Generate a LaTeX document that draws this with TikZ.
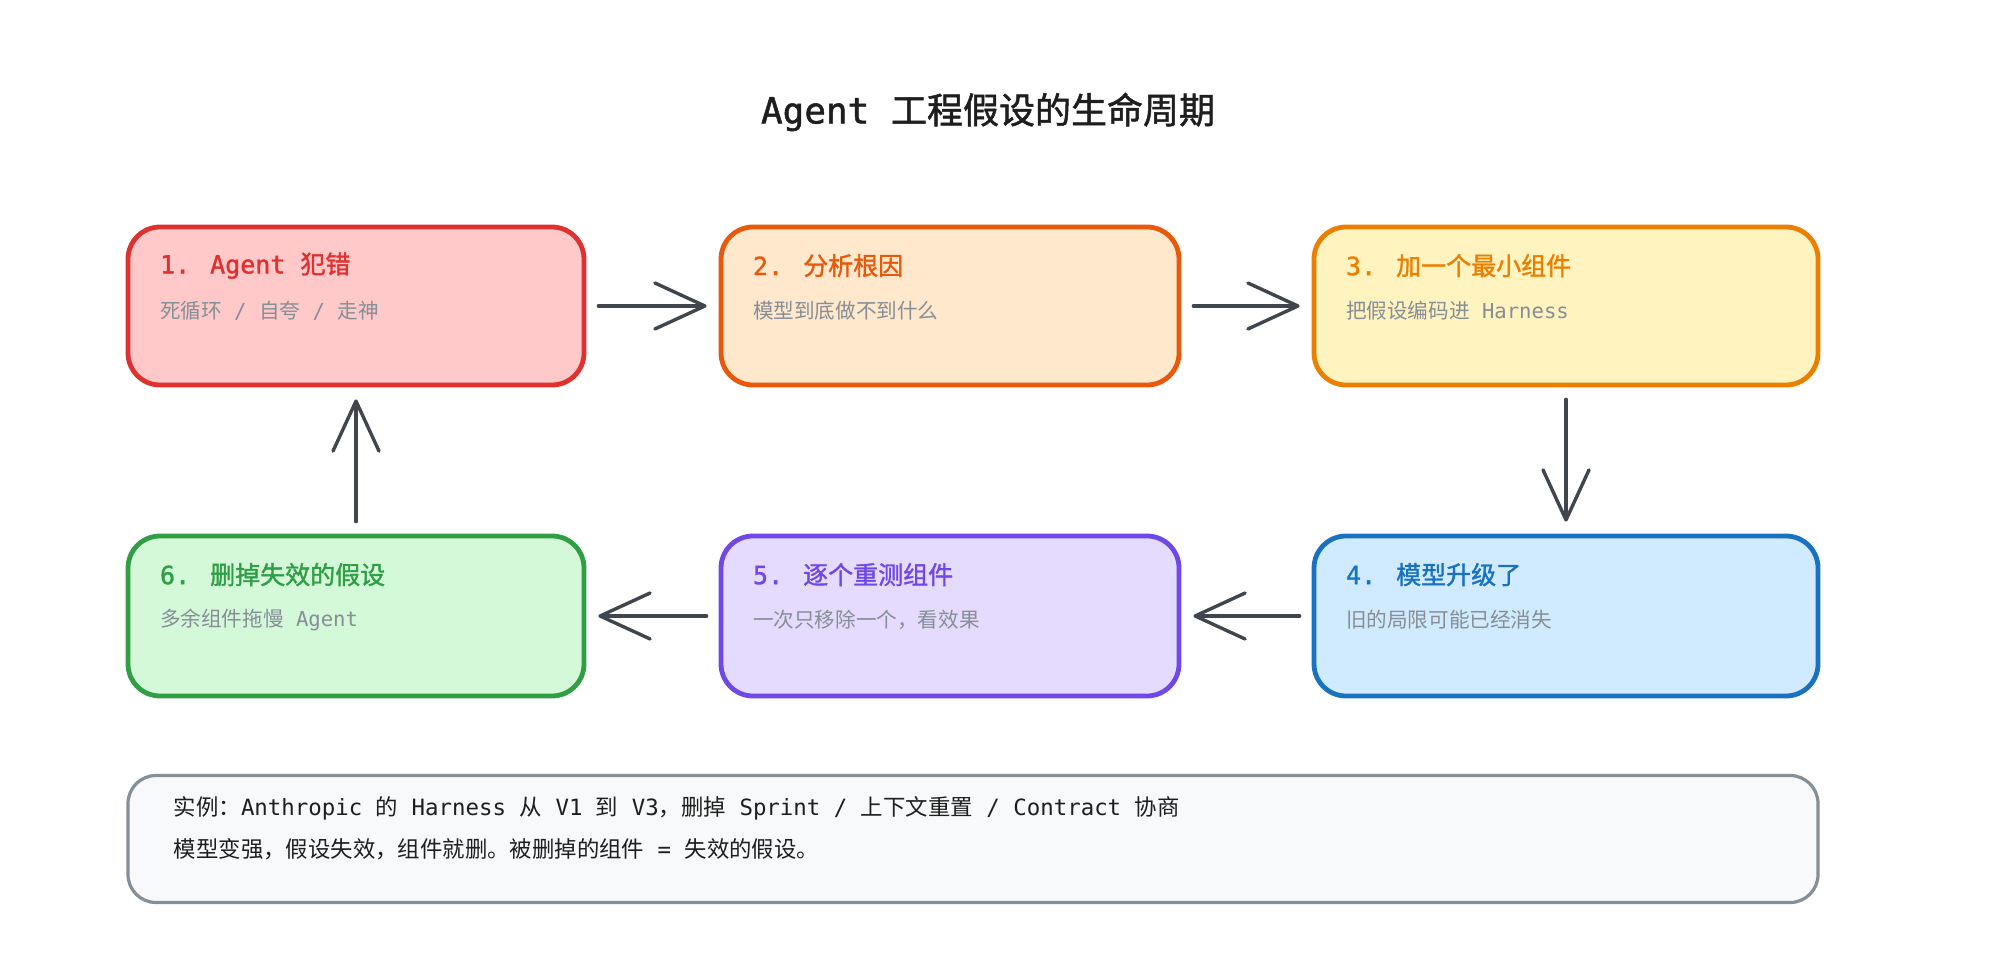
\documentclass[tikz,border=0pt]{standalone}
\usepackage{fontspec}
\setmainfont{DejaVu Sans Mono}
\newfontfamily\latinfont[BoldFont={DejaVu Sans Mono}, BoldFeatures={FakeBold=1.4}]{DejaVu Sans Mono}
\newfontfamily\cjkfont[BoldFont={Noto Sans CJK SC}, BoldFeatures={FakeBold=1.4}]{Noto Sans CJK SC}
\usetikzlibrary{arrows.meta,calc,positioning}

% switch to the CJK font for Han characters and full-width punctuation
\XeTeXinterchartokenstate=1
\newXeTeXintercharclass\cjkclass
\newcount\cjkcnt
\cjkcnt="2E80
\loop\ifnum\cjkcnt<"A000 \XeTeXcharclass\cjkcnt=\cjkclass \advance\cjkcnt by 1 \repeat
\cjkcnt="FF00
\loop\ifnum\cjkcnt<"FFF0 \XeTeXcharclass\cjkcnt=\cjkclass \advance\cjkcnt by 1 \repeat
\XeTeXinterchartoks 0 \cjkclass = {\cjkfont}
\XeTeXinterchartoks 4095 \cjkclass = {\cjkfont}
\XeTeXinterchartoks \cjkclass 0 = {\latinfont}
\XeTeXinterchartoks \cjkclass 4095 = {\latinfont}

\definecolor{ink}{HTML}{1E1E1E}
\definecolor{subgray}{HTML}{868E96}
\definecolor{arrowgray}{HTML}{3F464D}
\definecolor{redline}{HTML}{E03131}
\definecolor{redfill}{HTML}{FFC9C9}
\definecolor{orangeline}{HTML}{E8590C}
\definecolor{orangefill}{HTML}{FFE8CC}
\definecolor{yellowline}{HTML}{EC7F00}
\definecolor{yellowfill}{HTML}{FFF3BF}
\definecolor{blueline}{HTML}{1971C2}
\definecolor{bluefill}{HTML}{D0EBFF}
\definecolor{violetline}{HTML}{7048E8}
\definecolor{violetfill}{HTML}{E5DBFF}
\definecolor{greenline}{HTML}{2F9E44}
\definecolor{greenfill}{HTML}{D3F9D8}
\definecolor{noteline}{HTML}{868E96}
\definecolor{notefill}{HTML}{F8F9FA}

\begin{document}
\begin{tikzpicture}[x=0.5pt,y=-0.5pt,
  card/.style 2 args={draw=#1, fill=#2, line width=2.4pt, rounded corners=16pt,
    minimum width=228pt, minimum height=79pt},
  head/.style={anchor=west, inner sep=0pt, text=#1, font=\fontsize{12.5}{15}\selectfont\latinfont\bfseries},
  sub/.style={anchor=west, inner sep=0pt, text=subgray, font=\fontsize{10.3}{12}\selectfont},
  note/.style={anchor=west, inner sep=0pt, text=ink, font=\fontsize{11.2}{13}\selectfont},
  flow/.style={draw=arrowgray, line width=1.7pt, line cap=round,
    -{Straight Barb[length=25pt,width=23pt,line cap=round,line join=round]},
    shorten <=6pt, shorten >=6pt}]
\useasboundingbox (0,0) rectangle (2000,962);

\node[text=ink, font=\fontsize{18}{22}\selectfont\latinfont\bfseries] (title) at (988,112) {Agent 工程假设的生命周期};

% cards
\node[card={redline}{redfill}] (b1) at (356,306) {};
\node[card={orangeline}{orangefill}, minimum width=229pt] (b2) at (950,306) {};
\node[card={yellowline}{yellowfill}, minimum width=252pt] (b3) at (1566,306) {};
\node[card={blueline}{bluefill}, minimum width=252pt, minimum height=80pt] (b4) at (1566,616) {};
\node[card={violetline}{violetfill}, minimum width=229pt, minimum height=80pt] (b5) at (950,616) {};
\node[card={greenline}{greenfill}, minimum height=80pt] (b6) at (356,616) {};

\node[head=redline] (h1) at ($(b1.north west)+(34,41)$) {1. Agent 犯错};
\node[sub] (s1) at ($(b1.north west)+(34,86)$) {死循环 / 自夸 / 走神};
\node[head=orangeline] (h2) at ($(b2.north west)+(34,41)$) {2. 分析根因};
\node[sub] (s2) at ($(b2.north west)+(34,86)$) {模型到底做不到什么};
\node[head=yellowline] (h3) at ($(b3.north west)+(34,41)$) {3. 加一个最小组件};
\node[sub] (s3) at ($(b3.north west)+(34,86)$) {把假设编码进 Harness};
\node[head=blueline] (h4) at ($(b4.north west)+(34,41)$) {4. 模型升级了};
\node[sub] (s4) at ($(b4.north west)+(34,86)$) {旧的局限可能已经消失};
\node[head=violetline] (h5) at ($(b5.north west)+(34,41)$) {5. 逐个重测组件};
\node[sub] (s5) at ($(b5.north west)+(34,86)$) {一次只移除一个，看效果};
\node[head=greenline] (h6) at ($(b6.north west)+(34,41)$) {6. 删掉失效的假设};
\node[sub] (s6) at ($(b6.north west)+(34,86)$) {多余组件拖慢 Agent};

% the loop
\draw[flow] (b1) -- (b2);
\draw[flow] (b2) -- (b3);
\draw[flow] (b3) -- (b4);
\draw[flow] (b4) -- (b5);
\draw[flow] (b5) -- (b6);
\draw[flow] (b6) -- (b1);

% example note
\node[draw=noteline, fill=notefill, line width=1.6pt, rounded corners=14pt,
  minimum width=845pt, minimum height=63.5pt] (ex) at (973,839) {};
\node[note] (ex1) at ($(ex.north west)+(47,34)$) {实例：Anthropic 的 Harness 从 V1 到 V3，删掉 Sprint / 上下文重置 / Contract 协商};
\node[note] (ex2) at ($(ex.north west)+(47,75)$) {模型变强，假设失效，组件就删。被删掉的组件 = 失效的假设。};
\end{tikzpicture}
\end{document}
